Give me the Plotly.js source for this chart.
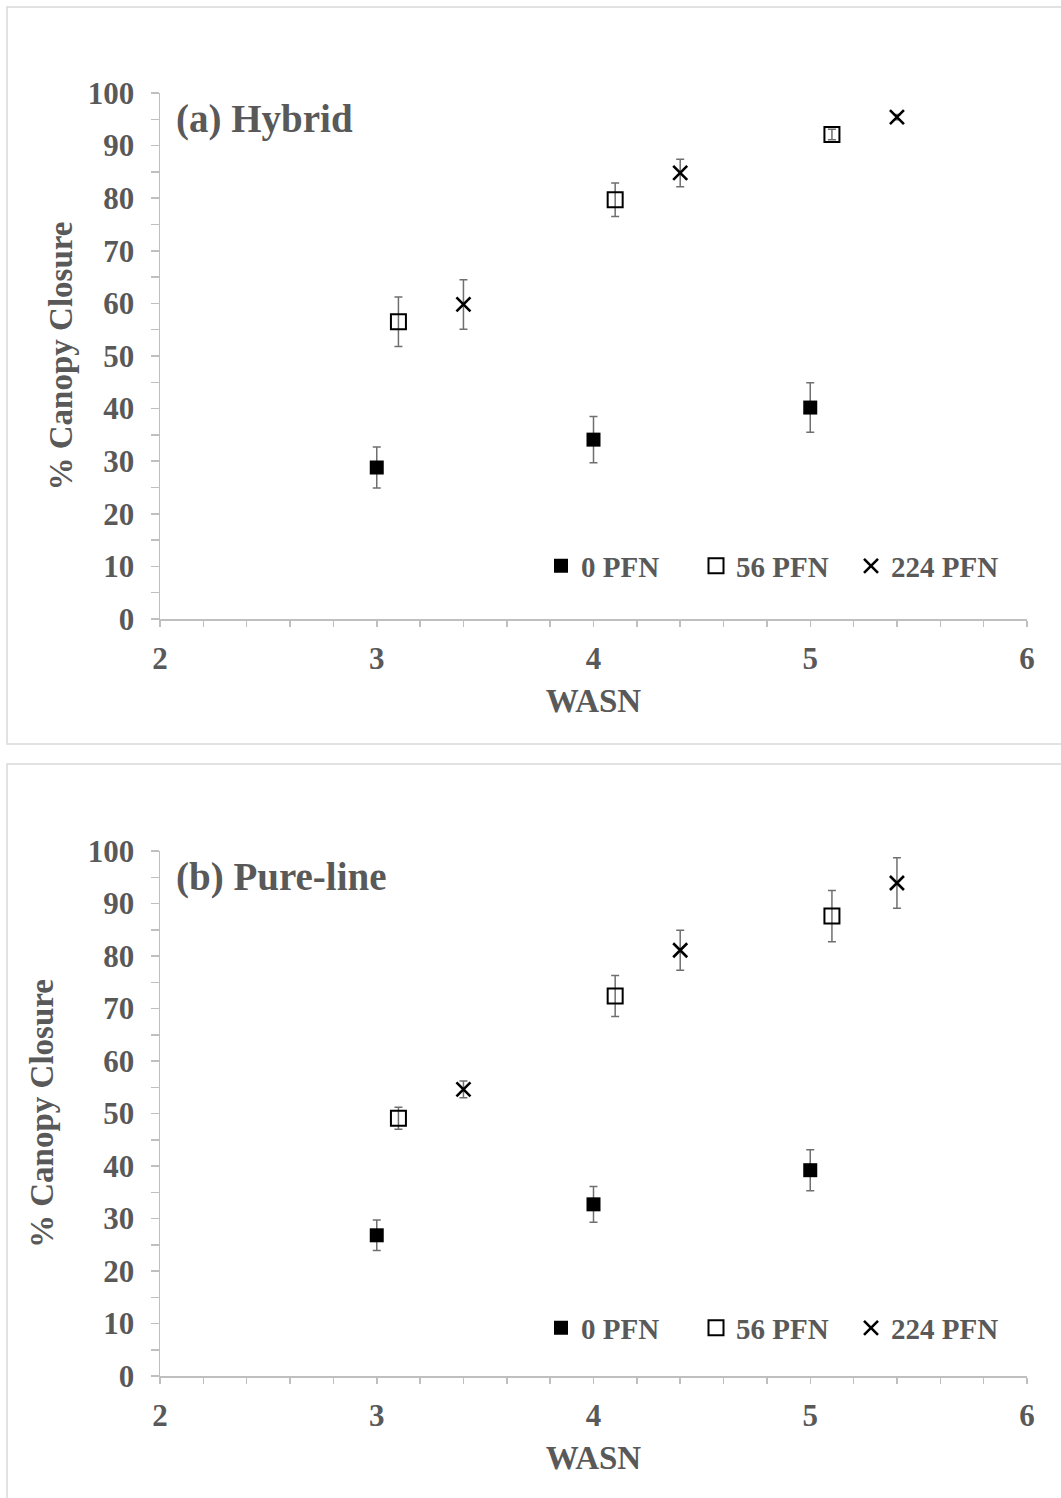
<!DOCTYPE html>
<html><head><meta charset="utf-8">
<script src="https://cdn.plot.ly/plotly-3.0.1.min.js"></script>
<style>html,body{margin:0;padding:0;background:#fff}</style>
</head><body><div id="chart" style="width:1061px;height:1498px"></div>
<script>
// WASN positions (offset per treatment as in the original figure)
const x0PFN = [3, 4, 5];
const x56PFN = [3.1, 4.1, 5.1];
const x224PFN = [3.4, 4.4, 5.4];

// (a) Hybrid
const hybrid0 = [28.8, 34.1, 40.2];
const hybrid0Err = [3.9, 4.4, 4.7];
const hybrid56 = [56.5, 79.7, 92.1];
const hybrid56Err = [4.7, 3.2, 1.0];
const hybrid224 = [59.8, 84.8, 95.4];
const hybrid224Err = [4.7, 2.6, 0.5];

// (b) Pure-line
const pure0 = [26.8, 32.7, 39.2];
const pure0Err = [2.9, 3.4, 3.9];
const pure56 = [49.1, 72.4, 87.6];
const pure56Err = [2.1, 3.9, 4.9];
const pure224 = [54.6, 81.1, 93.9];
const pure224Err = [1.6, 3.8, 4.8];

const seriesNames = ['0 PFN', '56 PFN', '224 PFN'];
const panelLabels = ['(a) Hybrid', '(b) Pure-line'];

const FONT = '"Liberation Serif", "Times New Roman", serif';
const TXT = '#595959';
const AX = '#bfbfbf';
const ERRC = '#6f6f6f';

const markerStyles = [
  {symbol: 'square', size: 14, color: '#000000', line: {width: 0}},
  {symbol: 'square-open', size: 15, color: '#000000', line: {width: 2}},
  {symbol: 'x-thin-open', size: 14, color: '#000000', line: {width: 2.6, color: '#000000'}}
];

function mk(x, y, err, idx, xa, ya, leg) {
  return {
    type: 'scatter', mode: 'markers', x: x, y: y,
    name: seriesNames[idx], xaxis: xa, yaxis: ya, legend: leg,
    marker: markerStyles[idx],
    error_y: {type: 'data', array: err, visible: true, color: ERRC, thickness: 1.5, width: 4},
    cliponaxis: false
  };
}

const data = [
  mk(x0PFN, hybrid0, hybrid0Err, 0, 'x', 'y', 'legend'),
  mk(x56PFN, hybrid56, hybrid56Err, 1, 'x', 'y', 'legend'),
  mk(x224PFN, hybrid224, hybrid224Err, 2, 'x', 'y', 'legend'),
  mk(x0PFN, pure0, pure0Err, 0, 'x2', 'y2', 'legend2'),
  mk(x56PFN, pure56, pure56Err, 1, 'x2', 'y2', 'legend2'),
  mk(x224PFN, pure224, pure224Err, 2, 'x2', 'y2', 'legend2')
];

function xax(anchor) {
  return {
    anchor: anchor, domain: [160/1061, 1027/1061], range: [2, 6],
    dtick: 1, tick0: 2, ticks: 'outside', ticklen: 6, tickcolor: AX, tickwidth: 1.5,
    minor: {dtick: 0.2, ticks: 'outside', ticklen: 6, tickcolor: AX, tickwidth: 1.5, showgrid: false},
    showline: true, linecolor: AX, linewidth: 1.5, showgrid: false, zeroline: false,
    ticklabelstandoff: 5,
    tickfont: {family: FONT, size: 31, color: TXT, weight: 700},
    title: {text: 'WASN', font: {family: FONT, size: 33, color: TXT, weight: 700}, standoff: 14},
    fixedrange: true
  };
}
function yax(anchor, dom, standoff) {
  return {
    anchor: anchor, domain: dom, range: [0, 100],
    dtick: 10, tick0: 0, ticks: 'outside', ticklen: 8, tickcolor: AX, tickwidth: 1.5,
    minor: {dtick: 5, ticks: 'outside', ticklen: 8, tickcolor: AX, tickwidth: 1.5, showgrid: false},
    showline: true, linecolor: AX, linewidth: 1.5, showgrid: false, zeroline: false,
    ticklabelstandoff: 10,
    tickfont: {family: FONT, size: 31, color: TXT, weight: 700},
    title: {text: '% Canopy Closure', font: {family: FONT, size: 33, color: TXT, weight: 700}, standoff: standoff},
    fixedrange: true
  };
}

function legendCfg(y) {
  return {
    orientation: 'h', x: 541/1061, xanchor: 'left', y: y, yanchor: 'middle',
    font: {family: FONT, size: 29, color: TXT, weight: 700},
    bgcolor: 'rgba(0,0,0,0)', itemwidth: 30, entrywidth: 110, tracegroupgap: 0
  };
}

const layout = {
  width: 1061, height: 1498,
  margin: {l: 0, r: 0, t: 0, b: 0},
  paper_bgcolor: '#ffffff', plot_bgcolor: '#ffffff',
  showlegend: true,
  xaxis: xax('y'),
  yaxis: yax('x', [1 - 619/1498, 1 - 93/1498], 5),
  xaxis2: xax('y2'),
  yaxis2: yax('x2', [1 - 1376/1498, 1 - 851/1498], 24),
  legend: legendCfg(1 - 566/1498),
  legend2: legendCfg(1 - 1328/1498),
  annotations: [
    {xref: 'paper', yref: 'paper', x: 174/1061, y: 1 - 119/1498, xanchor: 'left', yanchor: 'middle',
     text: panelLabels[0], showarrow: false, font: {family: FONT, size: 39, color: TXT, weight: 700}},
    {xref: 'paper', yref: 'paper', x: 174/1061, y: 1 - 877/1498, xanchor: 'left', yanchor: 'middle',
     text: panelLabels[1], showarrow: false, font: {family: FONT, size: 39, color: TXT, weight: 700}}
  ],
  shapes: [
    {type: 'rect', xref: 'paper', yref: 'paper', x0: 7/1061, x1: 1075/1061, y0: 1 - 744/1498, y1: 1 - 7/1498,
     line: {color: '#d9d9d9', width: 1.5}, fillcolor: 'rgba(0,0,0,0)', layer: 'below'},
    {type: 'rect', xref: 'paper', yref: 'paper', x0: 7/1061, x1: 1075/1061, y0: 1 - 1510/1498, y1: 1 - 764/1498,
     line: {color: '#d9d9d9', width: 1.5}, fillcolor: 'rgba(0,0,0,0)', layer: 'below'}
  ]
};

Plotly.newPlot('chart', data, layout, {displayModeBar: false, staticPlot: true});
</script></body></html>
